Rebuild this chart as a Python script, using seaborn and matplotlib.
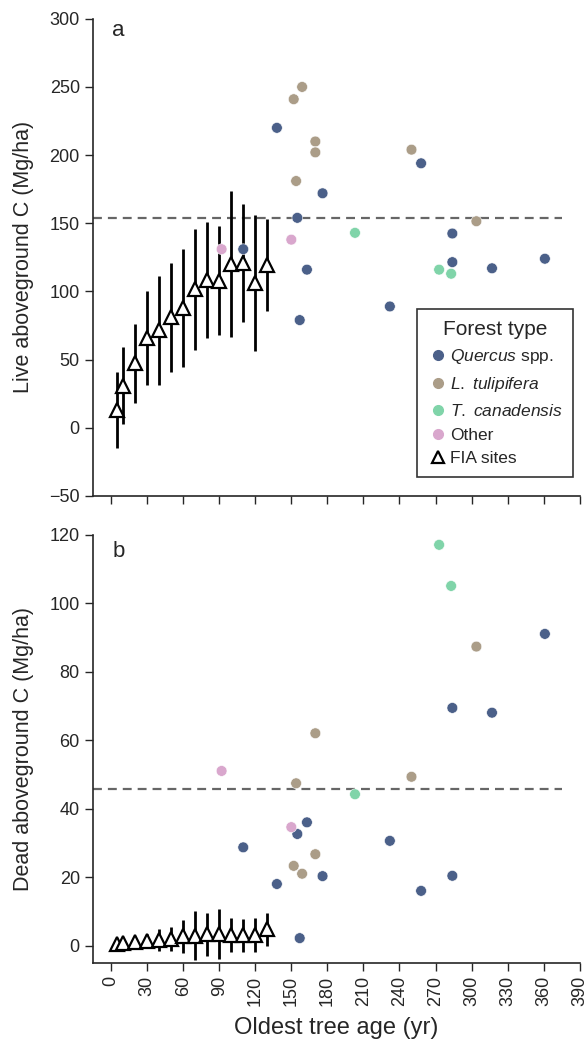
import pandas as pd
import seaborn as sns
from matplotlib import pyplot as plt
from matplotlib.lines import Line2D

# forest types and colours
forest_types = ["Quercus", "L. tulipifera", "T. canadensis", "Other"]
type_labels = [r"$\it{Quercus}$ spp.", r"$\it{L.}$ $\it{tulipifera}$", r"$\it{T.}$ $\it{canadensis}$", "Other"]
type_colors = ["#4b6089", "#ab9d88", "#80d4a9", "#d9a7cd"]

# old-growth sites
site_type = (["Quercus"] * 12 + ["L. tulipifera"] * 7 + ["T. canadensis"] * 3 + ["Other"] * 2)
site_age = [138, 176, 155, 163, 157, 110, 258, 284, 284, 317, 361, 232,
            159, 152, 170, 170, 154, 250, 304,
            203, 273, 283,
            150, 92]
site_live = [220, 172, 154, 116, 79, 131, 194, 142.5, 121.5, 117, 124, 89,
             250, 241, 210, 202, 181, 204, 151.5,
             143, 116, 113,
             138, 131]
site_dead = [18, 20.3, 32.6, 36, 2.2, 28.7, 16, 69.4, 20.4, 68, 91, 30.6,
             21, 23.3, 62, 26.7, 47.4, 49.3, 87.3,
             44.2, 117, 105,
             34.6, 51]

# FIA plots by age class
fia_age = [5, 10, 20, 30, 40, 50, 60, 70, 80, 90, 100, 110, 120, 130]
fia_live = [13, 31, 47.5, 66, 71.5, 81, 88, 101.5, 108.5, 108, 120, 121, 106, 119.5]
fia_live_sd = [28, 28, 29, 34.5, 40, 40, 43.5, 44.3, 42.5, 40.2, 53.6, 43.5, 50, 34]
fia_dead = [0.5, 0.7, 1.0, 1.3, 1.7, 2.0, 2.7, 2.9, 3.3, 3.5, 3.1, 3.0, 3.2, 4.8]
fia_dead_sd = [0.8, 1.0, 1.5, 2.0, 3.3, 3.5, 4.8, 7.1, 6.3, 7.3, 5.0, 4.7, 5.0, 4.8]

live_ref = 154
dead_ref = 45.6


def plot_panel(ax, df, col, fia_mean, fia_sd, ref, letter, letter_y):
    ax.errorbar(fia_age, fia_mean, yerr=fia_sd, fmt="^", ms=10, mfc="white", mec="black",
                mew=1.6, ecolor="black", elinewidth=2, capsize=0, zorder=2)
    sns.scatterplot(data=df, x="age", y=col, hue="type", hue_order=forest_types,
                    palette=type_colors, s=60, edgecolor="white", linewidth=0.4,
                    legend=False, ax=ax, zorder=3)
    ax.hlines(ref, -15, 375, colors="#666666", linestyles=(0, (4, 2.7)), linewidth=1.6, zorder=1)
    ax.text(0.04, letter_y, letter, transform=ax.transAxes, fontsize=16, va="top")
    ax.set_xlim(-15, 390)
    ax.set_xticks(range(0, 391, 30))
    ax.tick_params(direction="out", length=6, width=1, labelsize=13)
    for side in ["top", "right"]:
        ax.spines[side].set_visible(False)
    for side in ["left", "bottom"]:
        ax.spines[side].set_linewidth(1.2)


def main():
    sns.set_style("white")
    plt.rcParams["font.family"] = ["Liberation Sans", "DejaVu Sans"]
    plt.rcParams["mathtext.fontset"] = "custom"
    plt.rcParams["mathtext.it"] = "Liberation Sans:italic"
    plt.rcParams["mathtext.rm"] = "Liberation Sans"
    plt.rcParams["xtick.bottom"] = True
    plt.rcParams["ytick.left"] = True

    df = pd.DataFrame({"type": site_type, "age": site_age, "live": site_live, "dead": site_dead})

    fig = plt.figure(figsize=(5.85, 10.42), dpi=100)
    ax1 = fig.add_axes([0.159, 0.524, 0.832, 0.458])
    ax2 = fig.add_axes([0.159, 0.076, 0.832, 0.411])

    plot_panel(ax1, df, "live", fia_live, fia_live_sd, live_ref, "a", 0.998)
    ax1.set_ylim(-50, 300)
    ax1.set_yticks(range(-50, 301, 50))
    ax1.set_yticklabels(["\u221250"] + [str(v) for v in range(0, 301, 50)])
    ax1.set_xticklabels([])
    ax1.set_xlabel("")
    ax1.set_ylabel("Live aboveground C (Mg/ha)", fontsize=15.5)

    plot_panel(ax2, df, "dead", fia_dead, fia_dead_sd, dead_ref, "b", 0.986)
    ax2.set_ylim(-5, 120)
    ax2.set_yticks(range(0, 121, 20))
    ax2.set_xticklabels([str(v) for v in range(0, 391, 30)], rotation=90)
    ax2.set_xlabel("Oldest tree age (yr)", fontsize=17, labelpad=8)
    ax2.set_ylabel("Dead aboveground C (Mg/ha)", fontsize=15.5)

    ax1.yaxis.set_label_coords(-0.121, 0.5)
    ax2.yaxis.set_label_coords(-0.121, 0.5)

    handles = [Line2D([], [], ls="", marker="o", ms=7, mfc=c, mec=c) for c in type_colors]
    handles.append(Line2D([], [], ls="", marker="^", ms=8, mfc="white", mec="black", mew=1.6))
    labels = type_labels + ["FIA sites"]
    leg = ax1.legend(handles, labels, title="Forest type", loc="lower right",
                     bbox_to_anchor=(0.986, 0.04), borderaxespad=0, fontsize=12.5,
                     title_fontsize=15, frameon=True, fancybox=False, edgecolor="black",
                     handletextpad=0.1, handlelength=1.2, labelspacing=0.5, borderpad=0.6)
    leg.get_frame().set_linewidth(1.2)

    plt.savefig("out.png", dpi=100)


if __name__ == "__main__":
    main()
